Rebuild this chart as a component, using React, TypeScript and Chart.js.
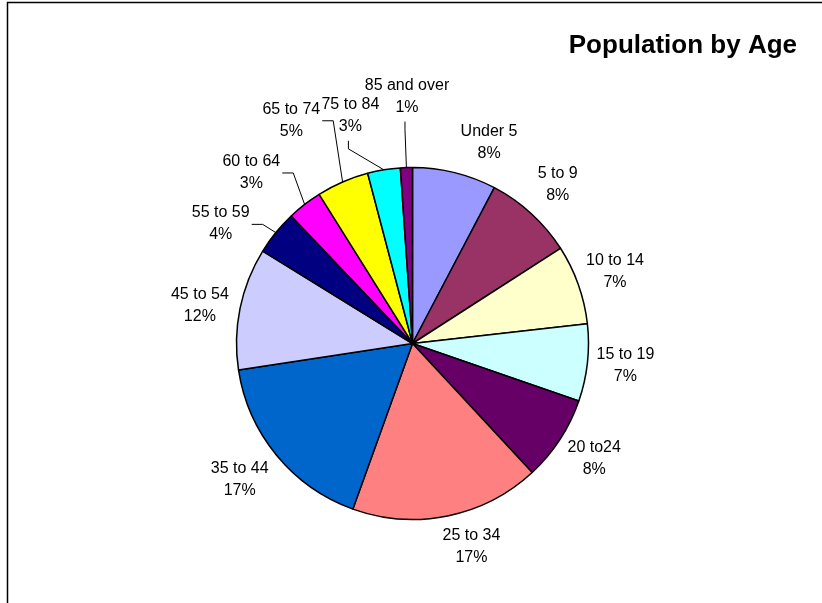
import React, { useEffect, useRef } from "react";
import { Chart, registerables } from "chart.js";

Chart.register(...registerables);

// ---- data ----
const categories = [
  "Under 5",
  "5 to 9",
  "10 to 14",
  "15 to 19",
  "20 to24",
  "25 to 34",
  "35 to 44",
  "45 to 54",
  "55 to 59",
  "60 to 64",
  "65 to 74",
  "75 to 84",
  "85 and over",
];
const shares = [7.7, 8.2, 7.3, 7.1, 7.8, 17.4, 17.1, 11.2, 4.1, 3.2, 4.8, 3.0, 1.1];
const percentLabels = ["8%", "8%", "7%", "7%", "8%", "17%", "17%", "12%", "4%", "3%", "5%", "3%", "1%"];

// ---- styles / label layout ----
const sliceColors = [
  "#9999FF",
  "#993366",
  "#FFFFCC",
  "#CCFFFF",
  "#660066",
  "#FF8080",
  "#0066CC",
  "#CCCCFF",
  "#000080",
  "#FF00FF",
  "#FFFF00",
  "#00FFFF",
  "#800080",
];
const labelAngleShift = [7, 0, 0, -0.5, -0.8, -4.7, 1.2, -1.4, -7.1, -5.5, -5.1, -5.9, 0.7];
const labelGap = [39, 39, 39, 38, 39, 35, 44, 40, 50, 59, 78, 60, 71];
const leaderKind = ["", "", "", "", "", "", "", "", "side", "side", "side", "top", "top"];

const FONT = "16px 'Liberation Sans', Arial, sans-serif";

const decorPlugin = {
  id: "decor",
  beforeDraw(chart: any) {
    const ctx = chart.ctx;
    ctx.save();
    ctx.fillStyle = "#ffffff";
    ctx.fillRect(0, 0, chart.width, chart.height);
    ctx.strokeStyle = "#000000";
    ctx.lineWidth = 1.5;
    ctx.beginPath();
    ctx.moveTo(7.5, chart.height);
    ctx.lineTo(7.5, 2.5);
    ctx.lineTo(chart.width, 2.5);
    ctx.stroke();
    ctx.restore();
  },
  afterDatasetsDraw(chart: any) {
    const ctx = chart.ctx;
    const meta = chart.getDatasetMeta(0);
    ctx.save();
    ctx.font = FONT;
    ctx.fillStyle = "#000000";
    ctx.textAlign = "center";
    ctx.textBaseline = "middle";
    meta.data.forEach((arc: any, i: number) => {
      const p = arc.getProps(["x", "y", "startAngle", "endAngle", "outerRadius"], true);
      const mid = (p.startAngle + p.endAngle) / 2;
      const a = mid + (labelAngleShift[i] * Math.PI) / 180;
      const dist = p.outerRadius + labelGap[i];
      const cx = p.x + Math.cos(a) * dist;
      const cy = p.y + Math.sin(a) * dist;
      ctx.fillText(categories[i], cx, cy - 11);
      ctx.fillText(percentLabels[i], cx, cy + 11);
      const rx = p.x + Math.cos(mid) * p.outerRadius;
      const ry = p.y + Math.sin(mid) * p.outerRadius;
      if (leaderKind[i] === "side") {
        const w = ctx.measureText(categories[i]).width;
        const sx = cx + w / 2 + 2;
        ctx.strokeStyle = "#000000";
        ctx.lineWidth = 1;
        ctx.beginPath();
        ctx.moveTo(sx, cy + 0.5);
        ctx.lineTo(sx + 11, cy + 0.5);
        ctx.lineTo(rx, ry);
        ctx.stroke();
      } else if (leaderKind[i] === "top") {
        const sy = cy + 25;
        ctx.strokeStyle = "#000000";
        ctx.lineWidth = 1;
        ctx.beginPath();
        ctx.moveTo(cx - 2, sy);
        ctx.lineTo(cx - 2, sy + 8);
        ctx.lineTo(rx, ry);
        ctx.stroke();
      }
    });
    // title
    ctx.font = "bold 26px 'Liberation Sans', Arial, sans-serif";
    ctx.textAlign = "right";
    ctx.textBaseline = "alphabetic";
    ctx.fillText("Population by Age", 797, 53);
    ctx.restore();
  },
};

export default function App() {
  const canvasRef = useRef<HTMLCanvasElement | null>(null);
  useEffect(() => {
    if (!canvasRef.current) return;
    const chart = new Chart(canvasRef.current, {
      type: "pie",
      data: {
        labels: categories,
        datasets: [
          {
            data: shares,
            backgroundColor: sliceColors,
            borderColor: "#000000",
            borderWidth: 1.5,
          },
        ],
      },
      options: {
        responsive: false,
        animation: false,
        events: [],
        radius: 176,
        layout: { padding: { left: 3, right: 0, top: 84, bottom: 0 } },
        plugins: {
          legend: { display: false },
          tooltip: { enabled: false },
          title: { display: false },
        },
      } as any,
      plugins: [decorPlugin],
    });
    return () => chart.destroy();
  }, []);
  return (
    <div style={{ position: "fixed", left: 0, top: 0, width: 822, height: 603, background: "#fff" }}>
      <canvas ref={canvasRef} width={822} height={603} style={{ width: 822, height: 603, display: "block" }} />
    </div>
  );
}
